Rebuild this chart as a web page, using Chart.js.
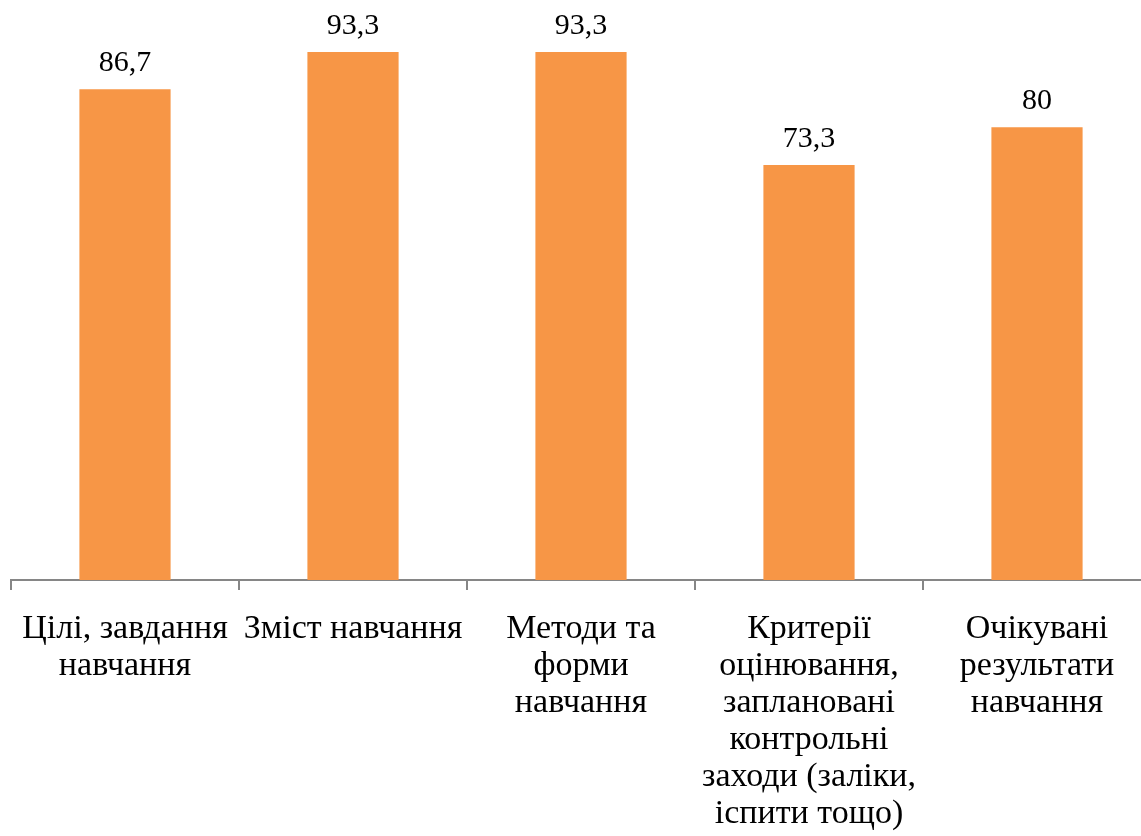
<!DOCTYPE html>
<html>
<head>
<meta charset="utf-8">
<script src="https://cdn.jsdelivr.net/npm/chart.js@4/dist/chart.umd.min.js"></script>
<style>
  html, body { margin: 0; padding: 0; background: #fff; overflow: hidden; }
  #wrap { position: absolute; left: 0; top: 0; width: 1151px; height: 854px; }
</style>
</head>
<body>
<div id="wrap"><canvas id="grafico"></canvas></div>
<script>
// Дані
const categorias = [
  ['Цілі, завдання', 'навчання'],
  ['Зміст навчання'],
  ['Методи та', 'форми', 'навчання'],
  ['Критерії', 'оцінювання,', 'заплановані', 'контрольні', 'заходи (заліки,', 'іспити тощо)'],
  ['Очікувані', 'результати', 'навчання']
];
const valores = [86.7, 93.3, 93.3, 73.3, 80];

// Підписи над стовпчиками
const rotulos = {
  id: 'rotulos',
  afterDatasetsDraw(chart) {
    const ctx = chart.ctx;
    const meta = chart.getDatasetMeta(0);
    ctx.save();
    ctx.fillStyle = '#000';
    ctx.font = '30px "Liberation Serif"';
    ctx.textAlign = 'center';
    ctx.textBaseline = 'alphabetic';
    meta.data.forEach((bar, i) => {
      const txt = String(valores[i]).replace('.', ',');
      ctx.fillText(txt, bar.x, bar.y - 18);
    });
    ctx.restore();
  }
};

const ctx = document.getElementById('grafico').getContext('2d');
new Chart(ctx, {
  type: 'bar',
  data: {
    labels: categorias,
    datasets: [{
      data: valores,
      backgroundColor: '#F79646',
      barPercentage: 0.4,
      categoryPercentage: 1
    }]
  },
  options: {
    responsive: true,
    maintainAspectRatio: false,
    animation: false,
    layout: { padding: { left: 11, top: 14, right: 0, bottom: 0 } },
    plugins: { legend: { display: false }, tooltip: { enabled: false } },
    scales: {
      x: {
        grid: { offset: true, drawOnChartArea: false, drawTicks: true, tickLength: 10, color: '#868686', lineWidth: 2 },
        border: { color: '#868686', width: 2 },
        ticks: {
          color: '#000',
          maxRotation: 0,
          autoSkip: false,
          padding: 21,
          font: { family: '"Liberation Serif"', size: 34, lineHeight: '37px' }
        }
      },
      y: {
        display: false,
        min: 0,
        max: 100
      }
    }
  },
  plugins: [rotulos]
});
</script>
</body>
</html>
